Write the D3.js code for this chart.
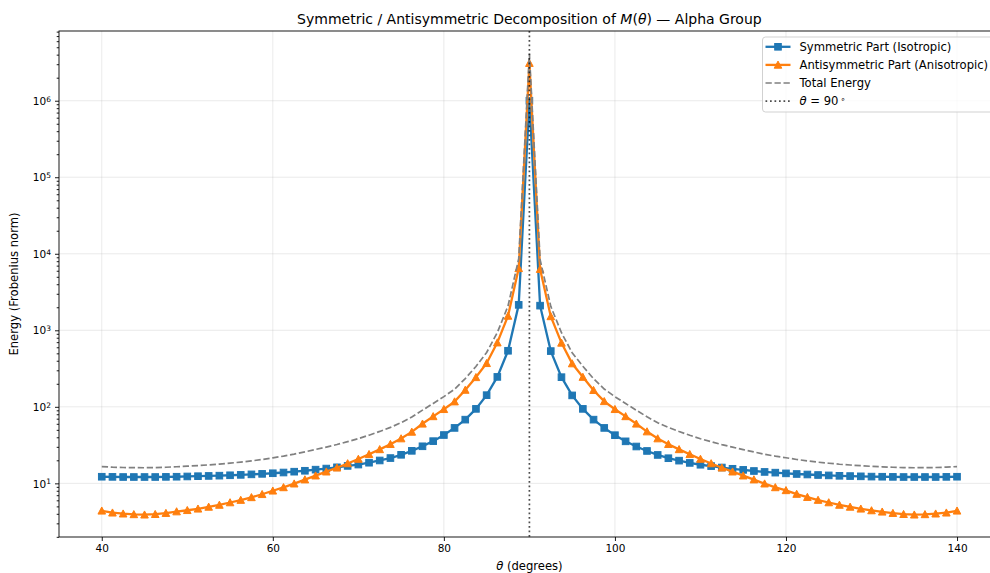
<!DOCTYPE html>
<html>
<head>
<meta charset="utf-8">
<script src="https://cdn.jsdelivr.net/npm/d3@7"></script>
<style>
  body { margin: 0; background: #fff; }
  svg { display: block; font-family: "DejaVu Sans", sans-serif; }
</style>
</head>
<body>
<div class="chart"></div>
<script>
// Symmetric / antisymmetric energy split, log scale
let svgWidth = 990;
let svgHeight = 573;

let margin = { top: 31, left: 59 };
let width = 940.8;
let height = 506;

// angle grid (degrees)
let thetaValues = [
  40, 41.25, 42.5, 43.75, 45, 46.25, 47.5, 48.75, 50, 51.25, 52.5, 53.75, 55, 56.25, 57.5, 58.75,
  60, 61.25, 62.5, 63.75, 65, 66.25, 67.5, 68.75, 70, 71.25, 72.5, 73.75, 75, 76.25, 77.5, 78.75,
  80, 81.25, 82.5, 83.75, 85, 86.25, 87.5, 88.75, 90, 91.25, 92.5, 93.75, 95, 96.25, 97.5, 98.75,
  100, 101.25, 102.5, 103.75, 105, 106.25, 107.5, 108.75, 110, 111.25, 112.5, 113.75, 115, 116.25, 117.5, 118.75,
  120, 121.25, 122.5, 123.75, 125, 126.25, 127.5, 128.75, 130, 131.25, 132.5, 133.75, 135, 136.25, 137.5, 138.75, 140
];

let symmetricValues = [
  12.2, 12.15, 12.1, 12.1, 12.1, 12.1, 12.15, 12.2, 12.3, 12.4, 12.5, 12.6, 12.75, 12.9, 13.1, 13.3,
  13.55, 13.85, 14.2, 14.6, 15.1, 15.6, 16.2, 16.9, 17.6, 18.6, 19.9, 21.4, 23.6, 26.6, 30.5, 35.6,
  42.8, 53, 68, 94, 142, 246, 540, 2150, 1.0e6, 2100, 535, 244, 141, 94, 68, 53,
  42.6, 35.4, 30.3, 26.5, 23.5, 21.3, 19.8, 18.5, 17.5, 16.8, 16.1, 15.5, 15.0, 14.5, 14.1, 13.8,
  13.5, 13.25, 13.05, 12.85, 12.7, 12.55, 12.45, 12.35, 12.25, 12.2, 12.15, 12.1, 12.1, 12.1, 12.1, 12.15, 12.2
];

let antisymmetricValues = [
  4.38, 4.13, 4.01, 3.93, 3.89, 3.95, 4.08, 4.28, 4.45, 4.65, 4.92, 5.22, 5.62, 6.05, 6.56, 7.2,
  8.0, 8.85, 9.9, 11.2, 12.6, 14.2, 16.0, 18.2, 20.8, 24.0, 27.8, 32.5, 38.5, 47, 60, 75,
  93, 117, 166, 243, 371, 690, 1540, 6460, 3.1e6, 6300, 1520, 685, 368, 245, 165, 118,
  93, 75, 60, 47.5, 38.5, 32.5, 27.8, 24.0, 20.8, 18.2, 16.0, 14.2, 12.6, 11.2, 9.9, 8.85,
  8.1, 7.25, 6.6, 6.05, 5.62, 5.22, 4.92, 4.65, 4.42, 4.25, 4.08, 3.95, 3.89, 3.93, 4.01, 4.13, 4.38
];

let totalValues = [
  16.58, 16.28, 16.11, 16.03, 15.99, 16.05, 16.23, 16.48, 16.75, 17.05, 17.42, 17.82, 18.37, 18.95, 19.66, 20.5,
  21.55, 22.7, 24.1, 25.8, 27.7, 29.8, 32.2, 35.1, 38.4, 42.6, 47.7, 53.9, 62.1, 73.6, 90.5, 110.6,
  135.8, 170, 234, 337, 513, 936, 2080, 8610, 4.1e6, 8400, 2055, 929, 509, 339, 233, 171,
  135.6, 110.4, 90.3, 74, 62, 53.8, 47.6, 42.5, 38.3, 35, 32.1, 29.7, 27.6, 25.7, 24, 22.65,
  21.6, 20.5, 19.65, 18.9, 18.32, 17.77, 17.37, 17.0, 16.67, 16.45, 16.23, 16.05, 15.99, 16.03, 16.11, 16.28, 16.58
];

let xTicks = [40, 60, 80, 100, 120, 140];
let yTicks = [1e1, 1e2, 1e3, 1e4, 1e5, 1e6];
let markerAngle = 90;

let svg = d3.select(".chart")
  .append("svg")
  .attr("width", svgWidth)
  .attr("height", svgHeight);

svg.append("rect")
  .attr("width", svgWidth)
  .attr("height", svgHeight)
  .attr("fill", "#fff");

let xScale = d3.scaleLinear().domain([35, 145]).range([0, width]);
let yScale = d3.scaleLog().domain([1.99, 8.15e6]).range([height, 0]);

let chartGroup = svg.append("g")
  .attr("transform", `translate(${margin.left}, ${margin.top})`);

svg.append("defs").append("clipPath")
  .attr("id", "plotClip")
  .append("rect")
  .attr("width", width)
  .attr("height", height);

// grid
chartGroup.append("g").selectAll("line")
  .data(xTicks)
  .enter()
  .append("line")
  .attr("x1", d => xScale(d)).attr("x2", d => xScale(d))
  .attr("y1", 0).attr("y2", height)
  .attr("stroke", "#b0b0b0").attr("stroke-opacity", 0.3).attr("stroke-width", 0.9);

chartGroup.append("g").selectAll("line")
  .data(yTicks)
  .enter()
  .append("line")
  .attr("y1", d => yScale(d)).attr("y2", d => yScale(d))
  .attr("x1", 0).attr("x2", width)
  .attr("stroke", "#b0b0b0").attr("stroke-opacity", 0.3).attr("stroke-width", 0.9);

// series
let makeSeries = values => thetaValues.map((t, i) => ({ theta: t, value: values[i] }));
let symData = makeSeries(symmetricValues);
let antiData = makeSeries(antisymmetricValues);
let totalData = makeSeries(totalValues);

let lineGen = d3.line()
  .x(d => xScale(d.theta))
  .y(d => yScale(d.value));

let plot = chartGroup.append("g").attr("clip-path", "url(#plotClip)");

plot.append("path")
  .datum(symData)
  .attr("d", lineGen)
  .attr("fill", "none")
  .attr("stroke", "#1f77b4")
  .attr("stroke-width", 2.3);

plot.selectAll(".sq")
  .data(symData)
  .enter()
  .append("rect")
  .attr("class", "sq")
  .attr("x", d => xScale(d.theta) - 3.3)
  .attr("y", d => yScale(d.value) - 3.3)
  .attr("width", 6.6)
  .attr("height", 6.6)
  .attr("fill", "#1f77b4")
  .attr("stroke", "#1f77b4")
  .attr("stroke-width", 1);

let triPath = "M0,-3.8L3.8,3.3L-3.8,3.3Z";

plot.append("path")
  .datum(antiData)
  .attr("d", lineGen)
  .attr("fill", "none")
  .attr("stroke", "#ff7f0e")
  .attr("stroke-width", 2.3);

plot.selectAll(".tri")
  .data(antiData)
  .enter()
  .append("path")
  .attr("class", "tri")
  .attr("d", triPath)
  .attr("transform", d => `translate(${xScale(d.theta)}, ${yScale(d.value)})`)
  .attr("fill", "#ff7f0e")
  .attr("stroke", "#ff7f0e")
  .attr("stroke-width", 1);

plot.append("path")
  .datum(totalData)
  .attr("d", lineGen)
  .attr("fill", "none")
  .attr("stroke", "#808080")
  .attr("stroke-width", 1.7)
  .attr("stroke-dasharray", "6.3,2.7");

plot.append("line")
  .attr("x1", xScale(markerAngle)).attr("x2", xScale(markerAngle))
  .attr("y1", 0).attr("y2", height)
  .attr("stroke", "#000")
  .attr("stroke-opacity", 0.7)
  .attr("stroke-width", 1.7)
  .attr("stroke-dasharray", "1.7,2.8");

// axes
let bottomAxis = d3.axisBottom(xScale)
  .tickValues(xTicks)
  .tickSize(4)
  .tickPadding(4)
  .tickFormat(d3.format("d"));

chartGroup.append("g")
  .attr("transform", `translate(0, ${height})`)
  .call(bottomAxis);

let minorTicks = [];
[0, 1, 2, 3, 4, 5, 6].forEach(k => {
  [2, 3, 4, 5, 6, 7, 8, 9].forEach(m => {
    let v = m * Math.pow(10, k);
    if (v >= 1.99 && v <= 8.15e6) minorTicks.push(v);
  });
});

chartGroup.append("g")
  .call(d3.axisLeft(yScale).tickValues(minorTicks).tickSize(2.3).tickFormat(""));

let yAxis = chartGroup.append("g")
  .call(d3.axisLeft(yScale).tickValues(yTicks).tickSize(4).tickFormat(""));

yAxis.selectAll(".tick").append("text")
  .attr("x", -8)
  .attr("dy", "0.35em")
  .attr("text-anchor", "end")
  .attr("fill", "#000")
  .each(function (d) {
    let t = d3.select(this);
    t.append("tspan").text("10");
    t.append("tspan")
      .attr("dy", "-0.45em")
      .attr("font-size", "7.5px")
      .text(Math.round(Math.log10(d)));
  });

svg.selectAll(".tick line").attr("stroke", "#000").attr("stroke-width", 0.9);
svg.selectAll(".tick text").attr("font-size", "10.5px").attr("font-family", "DejaVu Sans");
svg.selectAll(".domain").remove();

// spines
chartGroup.append("rect")
  .attr("width", width)
  .attr("height", height)
  .attr("fill", "none")
  .attr("stroke", "#000")
  .attr("stroke-width", 0.9);

// title & labels
let title = svg.append("text")
  .attr("x", margin.left + width / 2)
  .attr("y", 24)
  .attr("text-anchor", "middle")
  .attr("font-size", "14px");
title.append("tspan").text("Symmetric / Antisymmetric Decomposition of ");
title.append("tspan").attr("font-style", "italic").text("M");
title.append("tspan").text("(");
title.append("tspan").attr("font-style", "italic").text("θ");
title.append("tspan").text(") — Alpha Group");

let xLabel = svg.append("text")
  .attr("x", margin.left + width / 2)
  .attr("y", 569.5)
  .attr("text-anchor", "middle")
  .attr("font-size", "11.6px");
xLabel.append("tspan").attr("font-style", "italic").text("θ");
xLabel.append("tspan").text(" (degrees)");

svg.append("text")
  .attr("transform", `translate(17.5, ${margin.top + height / 2}) rotate(-90)`)
  .attr("text-anchor", "middle")
  .attr("font-size", "11.6px")
  .text("Energy (Frobenius norm)");

// legend
let legend = svg.append("g").attr("transform", "translate(762.5, 37)");

legend.append("rect")
  .attr("width", 245)
  .attr("height", 75)
  .attr("rx", 3)
  .attr("fill", "#fff")
  .attr("fill-opacity", 0.8)
  .attr("stroke", "#cccccc")
  .attr("stroke-width", 0.9);

let legendRows = [
  { label: "Symmetric Part (Isotropic)", color: "#1f77b4", width: 2.3, dash: null, marker: "square" },
  { label: "Antisymmetric Part (Anisotropic)", color: "#ff7f0e", width: 2.3, dash: null, marker: "triangle" },
  { label: "Total Energy", color: "#808080", width: 1.7, dash: "6.3,2.7", marker: null },
  { label: "theta", color: "#000", width: 1.7, dash: "1.7,2.8", marker: null }
];

legendRows.forEach((row, i) => {
  let g = legend.append("g").attr("transform", `translate(0, ${9.8 + i * 18.1})`);
  g.append("line")
    .attr("x1", 3).attr("x2", 28)
    .attr("stroke", row.color)
    .attr("stroke-opacity", row.label === "theta" ? 0.7 : 1)
    .attr("stroke-width", row.width)
    .attr("stroke-dasharray", row.dash);
  if (row.marker === "square") {
    g.append("rect").attr("x", 12.2).attr("y", -3.3).attr("width", 6.6).attr("height", 6.6)
      .attr("fill", row.color).attr("stroke", row.color);
  } else if (row.marker === "triangle") {
    g.append("path").attr("d", triPath).attr("transform", "translate(15.5, 0)")
      .attr("fill", row.color).attr("stroke", row.color);
  }
  let t = g.append("text")
    .attr("x", 37)
    .attr("dy", "0.35em")
    .attr("font-size", "11.6px");
  if (row.label === "theta") {
    t.append("tspan").attr("font-style", "italic").text("θ");
    t.append("tspan").text(" = 90");
    t.append("tspan").attr("dy", "-0.45em").attr("dx", "2").attr("font-size", "8px").text("∘");
  } else {
    t.text(row.label);
  }
});
</script>
</body>
</html>
